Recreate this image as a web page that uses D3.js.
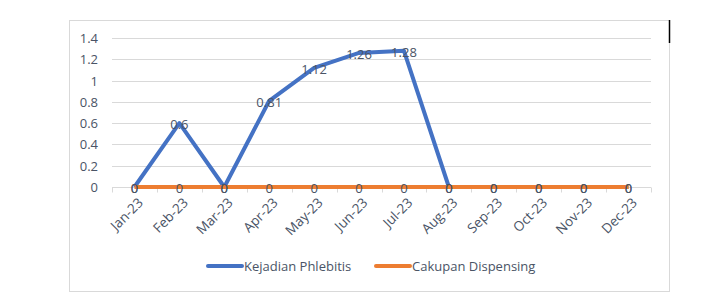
<!DOCTYPE html>
<html>
<head>
<meta charset="utf-8">
<script src="https://cdn.jsdelivr.net/npm/d3@7"></script>
<style>
  body { margin: 0; background: #fff; }
  text { font-family: "Open Sans", "Noto Sans", sans-serif; fill: #4a5466; }
</style>
</head>
<body>
<div id="chart"></div>
<script>
'use strict';

// ── Data ─────────────────────────────────────────────
const months = ['Jan-23','Feb-23','Mar-23','Apr-23','May-23','Jun-23',
                'Jul-23','Aug-23','Sep-23','Oct-23','Nov-23','Dec-23'];
const phlebitis  = [0, 0.6, 0, 0.81, 1.12, 1.26, 1.28, 0, 0, 0, 0, 0];
const dispensing = [0, 0, 0, 0, 0, 0, 0, 0, 0, 0, 0, 0];
const yTicks = [0, 0.2, 0.4, 0.6, 0.8, 1, 1.2, 1.4];

const series = [
    { name: 'Kejadian Phlebitis', values: phlebitis,  colour: '#4472C4' },
    { name: 'Cakupan Dispensing', values: dispensing, colour: '#ED7D31' }
];

// ── Layout ───────────────────────────────────────────
const W = 712, H = 297;
const plot = { left: 112, right: 651, top: 38, bottom: 187 };

const svg = d3.select('#chart').append('svg')
    .attr('width', W).attr('height', H);

// chart frame
svg.append('rect')
    .attr('x', 69.5).attr('y', 20.5)
    .attr('width', 600).attr('height', 271)
    .attr('fill', 'none').attr('stroke', '#d9d9d9');

// stray cursor mark on the right edge
svg.append('line')
    .attr('x1', 669.5).attr('x2', 669.5).attr('y1', 20).attr('y2', 43)
    .attr('stroke', '#000').attr('stroke-width', 1.5);

// ── Scales ───────────────────────────────────────────
const x = d3.scaleBand().domain(months).range([plot.left, plot.right]);
const y = d3.scaleLinear().domain([0, 1.4]).range([plot.bottom, plot.top]);
const cx = m => x(m) + x.bandwidth() / 2;

// gridlines
svg.append('g').selectAll('line')
    .data(yTicks.filter(d => d > 0))
    .join('line')
    .attr('x1', plot.left).attr('x2', plot.right)
    .attr('y1', d => Math.round(y(d)) + 0.5).attr('y2', d => Math.round(y(d)) + 0.5)
    .attr('stroke', '#d9d9d9');

// y labels
svg.append('g').selectAll('text')
    .data(yTicks)
    .join('text')
    .attr('x', 98).attr('y', d => y(d))
    .attr('text-anchor', 'end')
    .attr('dominant-baseline', 'central')
    .attr('font-size', 13)
    .text(d => d);

// x axis
const xAxis = svg.append('g')
    .attr('transform', `translate(0,${Math.round(plot.bottom) + 0.5})`);
xAxis.append('line')
    .attr('x1', plot.left).attr('x2', plot.right)
    .attr('stroke', '#d9d9d9');
xAxis.selectAll('line.tick')
    .data(months.map(m => x(m)).concat([plot.right]))
    .join('line')
    .attr('class', 'tick')
    .attr('x1', d => Math.round(d) + 0.5).attr('x2', d => Math.round(d) + 0.5)
    .attr('y1', 0).attr('y2', 5)
    .attr('stroke', '#d9d9d9');

svg.append('g').selectAll('text')
    .data(months)
    .join('text')
    .attr('transform', m => `translate(${cx(m) + 6},${plot.bottom + 13}) rotate(-45)`)
    .attr('text-anchor', 'end')
    .attr('dominant-baseline', 'central')
    .attr('font-size', 13.5)
    .text(m => m);

// ── Lines ────────────────────────────────────────────
const line = d3.line()
    .x((d, i) => cx(months[i]))
    .y(d => y(d));

series.forEach(s => {
    svg.append('path')
        .datum(s.values)
        .attr('d', line)
        .attr('fill', 'none')
        .attr('stroke', s.colour)
        .attr('stroke-width', 4)
        .attr('stroke-linejoin', 'round');
});

// data labels
series.forEach(s => {
    svg.append('g').selectAll('text')
        .data(s.values)
        .join('text')
        .attr('x', (d, i) => cx(months[i]))
        .attr('y', d => y(d) + 1)
        .attr('text-anchor', 'middle')
        .attr('dominant-baseline', 'central')
        .attr('font-size', 13)
        .text(d => d);
});

// ── Legend ───────────────────────────────────────────
const legendX = [208, 376];
const legend = svg.append('g').selectAll('g')
    .data(series)
    .join('g')
    .attr('transform', (d, i) => `translate(${legendX[i]},266)`);
legend.append('line')
    .attr('x1', 0).attr('x2', 34)
    .attr('stroke', d => d.colour)
    .attr('stroke-width', 4)
    .attr('stroke-linecap', 'round');
legend.append('text')
    .attr('x', 36)
    .attr('dominant-baseline', 'central')
    .attr('font-size', 13)
    .text(d => d.name);
</script>
</body>
</html>
